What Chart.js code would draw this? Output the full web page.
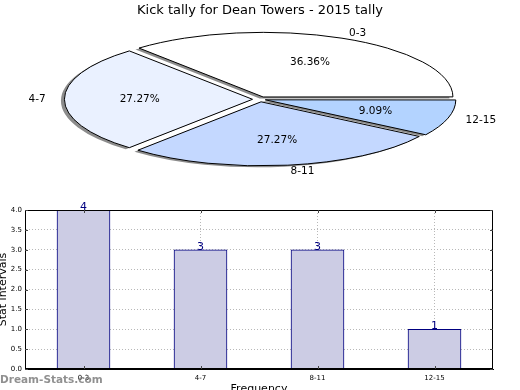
<!DOCTYPE html>
<html>
<head>
<meta charset="utf-8">
<script src="https://cdn.jsdelivr.net/npm/chart.js@4.4.0/dist/chart.umd.min.js"></script>
<style>
  html, body { margin: 0; padding: 0; background: #fff; }
  #wrap { position: relative; width: 520px; height: 390px; overflow: hidden; }
  #pie { position: absolute; left: 0; top: 0; }
  #bar { position: absolute; left: 0; top: 195px; }
</style>
</head>
<body>
<div id="wrap">
  <canvas id="pie" width="520" height="195"></canvas>
  <canvas id="bar" width="520" height="195"></canvas>
</div>
<script>
  // data
  const categories = ['0-3', '4-7', '8-11', '12-15'];
  const counts = [4, 3, 3, 1];
  const sliceColors = ['#ffffff', '#eaf1ff', '#c4d8ff', '#b3d3ff'];
  const yTicks = [0, 0.5, 1, 1.5, 2, 2.5, 3, 3.5, 4];
  const chartTitle = 'Kick tally for Dean Towers - 2015 tally';
  const xTitle = 'Frequency';
  const yTitle = 'Stat intervals';
  const watermark = 'Dream-Stats.com';

  const FONT = 'DejaVu Sans';

  // pie is drawn as a squashed ellipse, matplotlib style (counter-clockwise from east)
  const pieCenter = { x: 260, y: 99.3 };
  const pieRadius = 188;
  const squash = 64 / 188;
  const explode = [30, 30, 30, 22]; // chart.js divides arc offset by 4
  const order = [3, 2, 1, 0];

  const ellipse = {
    id: 'ellipse',
    beforeDatasetsDraw(chart) {
      const ctx = chart.ctx;
      const arc = chart.getDatasetMeta(0).data[0];
      ctx.save();
      const base = ctx.getTransform();
      ctx.translate(pieCenter.x, pieCenter.y);
      ctx.scale(1, squash);
      ctx.translate(-arc.x, -arc.y);
      ctx.shadowColor = 'rgba(0,0,0,0.45)';
      ctx.shadowOffsetX = -3.5;
      ctx.shadowOffsetY = 1.5;
      ctx.shadowBlur = 0;
      // keep the edge lines 1px thick despite the vertical squash
      const stroke = CanvasRenderingContext2D.prototype.stroke;
      ctx.stroke = function () {
        this.save();
        this.setTransform(base);
        this.shadowColor = 'rgba(0,0,0,0)';
        stroke.apply(this, arguments);
        this.restore();
      };
    },
    afterDatasetsDraw(chart) {
      const ctx = chart.ctx;
      delete ctx.stroke;
      ctx.restore();

      const meta = chart.getDatasetMeta(0);
      const data = chart.data.datasets[0].data;
      const total = data.reduce((a, b) => a + b, 0);
      ctx.save();
      ctx.fillStyle = '#000';
      ctx.font = '10.5px "' + FONT + '"';
      ctx.textBaseline = 'middle';
      meta.data.forEach((a, i) => {
        const mid = (a.startAngle + a.endAngle) / 2;
        const off = 7.5;
        const R = pieRadius;
        const pt = f => ({
          x: pieCenter.x + Math.cos(mid) * (off + f * R),
          y: pieCenter.y + Math.sin(mid) * (off + f * R) * squash
        });
        const o = pt(1.1);
        ctx.textAlign = Math.cos(mid) > 0 ? 'left' : 'right';
        ctx.fillText(chart.data.labels[i], o.x, o.y);
        const p = pt(0.6);
        ctx.textAlign = 'center';
        ctx.fillText((data[i] / total * 100).toFixed(2) + '%', p.x, p.y);
      });
      ctx.restore();
    }
  };

  new Chart(document.getElementById('pie'), {
    type: 'pie',
    data: {
      labels: order.map(i => categories[i]),
      datasets: [{
        data: order.map(i => counts[i]),
        backgroundColor: order.map(i => sliceColors[i]),
        borderColor: '#000',
        borderWidth: 1,
        offset: order.map(i => explode[i]),
        hoverOffset: 0,
        clip: false
      }]
    },
    options: {
      responsive: false,
      animation: false,
      devicePixelRatio: 1,
      rotation: 90,
      radius: pieRadius,
      plugins: {
        legend: { display: false },
        tooltip: { enabled: false },
        title: {
          display: true,
          text: chartTitle,
          color: '#000',
          font: { family: FONT, size: 13, weight: 'normal' },
          padding: { top: 3, bottom: 2 }
        }
      }
    },
    plugins: [ellipse]
  });

  // bar chart extras: full frame, inward ticks, value labels, titles, watermark
  const extras = {
    id: 'extras',
    afterDraw(chart) {
      const ctx = chart.ctx;
      const a = chart.chartArea;
      const xs = chart.scales.x, ys = chart.scales.y;
      ctx.save();
      ctx.strokeStyle = '#000';
      ctx.lineWidth = 1;
      ctx.strokeRect(Math.round(a.left) + 0.5, Math.round(a.top) + 0.5,
        Math.round(a.right - a.left) - 1, Math.round(a.bottom - a.top) - 1);

      ctx.strokeStyle = '#444';
      ctx.beginPath();
      yTicks.forEach(v => {
        const y = Math.round(ys.getPixelForValue(v)) + 0.5;
        ctx.moveTo(a.left, y); ctx.lineTo(a.left + 3, y);
        ctx.moveTo(a.right, y); ctx.lineTo(a.right - 3, y);
      });
      categories.forEach((c, i) => {
        const x = Math.round(xs.getPixelForValue(i)) + 0.5;
        ctx.moveTo(x, a.bottom); ctx.lineTo(x, a.bottom - 3);
        ctx.moveTo(x, a.top); ctx.lineTo(x, a.top + 3);
      });
      ctx.stroke();

      const meta = chart.getDatasetMeta(0);
      ctx.fillStyle = '#000080';
      ctx.font = '11px "' + FONT + '"';
      ctx.textAlign = 'center';
      ctx.textBaseline = 'alphabetic';
      meta.data.forEach((bar, i) => {
        ctx.fillText(String(counts[i]), bar.x, bar.y);
      });

      ctx.fillStyle = '#000';
      ctx.fillText(xTitle, (a.left + a.right) / 2, 197);
      ctx.save();
      ctx.translate(6, (a.top + a.bottom) / 2);
      ctx.rotate(-Math.PI / 2);
      ctx.fillText(yTitle, 0, 0);
      ctx.restore();

      ctx.fillStyle = 'rgba(125,125,125,0.85)';
      ctx.font = 'bold 10.5px "' + FONT + '"';
      ctx.textAlign = 'left';
      ctx.fillText(watermark, 0, 188);
      ctx.restore();
    }
  };

  const gridStyle = { color: '#b8b8b8', lineWidth: 1, drawTicks: false, offset: false };
  const borderStyle = { display: true, color: '#000', width: 1, dash: [1, 2] };

  new Chart(document.getElementById('bar'), {
    type: 'bar',
    data: {
      labels: categories,
      datasets: [{
        data: counts,
        backgroundColor: '#ccccE4',
        borderColor: '#000080',
        borderWidth: 1,
        barThickness: 53
      }]
    },
    options: {
      responsive: false,
      animation: false,
      devicePixelRatio: 1,
      layout: { padding: { left: 0, right: 27, top: 15, bottom: 0 } },
      scales: {
        x: {
          z: 1,
          grid: gridStyle,
          border: borderStyle,
          ticks: { color: '#000', font: { family: FONT, size: 7 }, padding: 5, maxRotation: 0 },
          afterFit(s) { s.height = 21; }
        },
        y: {
          z: 1,
          min: 0,
          max: 4,
          grid: gridStyle,
          border: borderStyle,
          ticks: {
            stepSize: 0.5,
            color: '#000',
            font: { family: FONT, size: 7 },
            padding: 3,
            callback: v => v.toFixed(1)
          },
          afterFit(s) { s.width = 25; }
        }
      },
      plugins: { legend: { display: false }, tooltip: { enabled: false } }
    },
    plugins: [extras]
  });
</script>
</body>
</html>
